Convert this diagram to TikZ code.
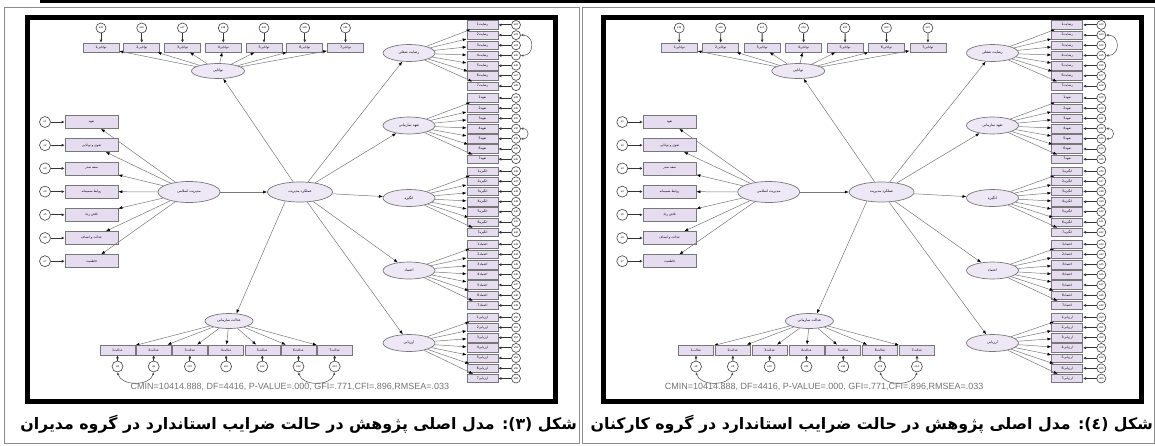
\documentclass[tikz,border=0pt]{standalone}
\usepackage{fontspec}
\setsansfont{Liberation Sans}
\newfontfamily\fa[Script=Arabic]{DejaVu Sans}
\TeXXeTstate=1
\usetikzlibrary{shapes.geometric,arrows.meta,positioning}

\definecolor{lavbox}{HTML}{E6DCF0}
\definecolor{lavell}{HTML}{EEE8F6}
\definecolor{edgegray}{HTML}{777777}

\newcommand{\fatxt}[1]{\beginR#1\endR}

\tikzset{
  lat/.style={ellipse, draw=edgegray, line width=0.7pt, fill=lavell, inner sep=0pt,
    font=\fa\fontsize{3.6}{4}\selectfont},
  obs/.style={rectangle, draw=edgegray, line width=0.6pt, fill=lavbox, inner sep=0pt,
    font=\fa\fontsize{3.2}{4}\selectfont},
  err/.style={circle, draw=black!75, line width=0.6pt, fill=white, inner sep=0pt,
    minimum size=10pt, font=\sffamily\fontsize{2.6}{3}\selectfont},
  load/.style={draw=edgegray, line width=0.5pt, -{Latex[length=4pt,width=3pt,color=black]}},
  errpath/.style={draw=black!80, line width=0.9pt, -{Latex[length=3pt,width=3pt]}},
  covpath/.style={draw=black!70, line width=0.5pt,
    {Latex[length=2.5pt,width=2.5pt]}-{Latex[length=2.5pt,width=2.5pt]}},
  fitline/.style={font=\sffamily\fontsize{9}{10}\selectfont, text=black!55, inner sep=0pt},
  caption/.style={font=\fa\bfseries\fontsize{15.8}{18}\selectfont, inner sep=0pt},
}

% one AMOS model (#1 = name prefix, #2 = x of the fit line)
\newcommand{\semmodel}[2]{%
  % thick frame
  \draw[line width=5pt] (27,17.5) rectangle (555.5,401);
  % latent factors
  \node[lat, minimum width=65pt, minimum height=20pt] (#1-c) at (300,192) {\fatxt{عملکرد مدیریت}};
  \node[lat, minimum width=62pt, minimum height=21pt] (#1-l) at (189,192) {\fatxt{مدیریت اسلامی}};
  \node[lat, minimum width=53pt, minimum height=15pt] (#1-top) at (218,71) {\fatxt{توانایی}};
  \node[lat, minimum width=48pt, minimum height=15pt] (#1-b) at (229,321) {\fatxt{عدالت سازمانی}};
  \draw[load] (#1-l) -- (#1-c);
  \draw[load] (#1-c) -- (#1-top);
  \draw[load] (#1-c.212) -- (#1-b.45);
  % top indicators
  \foreach \i in {1,...,7}{
    \pgfmathtruncatemacro\n{14+\i}
    \node[obs, minimum width=36pt, minimum height=9pt] (#1-t\i) at ({101+40.75*(\i-1)},47.5) {\fatxt{توانایی\i}};
    \node[err] (#1-te\i) at ({101+40.75*(\i-1)},28) {e\n};
    \draw[errpath] (#1-te\i) -- (#1-t\i);
    \draw[load] (#1-top) -- (#1-t\i);
  }
  % left indicators
  \foreach \i/\nm in {1/{تعهد},2/{تقوی و توانایی},3/{سعه صدر},4/{روابط صمیمانه},
                      5/{تلاش زیاد},6/{عدالت و انصاف},7/{قاطعیت}}{
    \node[obs, minimum width=53pt, minimum height=13pt] (#1-l\i) at (91.5,{122+23.2*(\i-1)}) {\fatxt{\nm}};
    \node[err, minimum size=11pt] (#1-le\i) at (45,{122+23.2*(\i-1)}) {e\i};
    \draw[errpath] (#1-le\i) -- (#1-l\i);
    \draw[load] (#1-l) -- (#1-l\i);
  }
  % bottom indicators
  \foreach \i in {1,...,7}{
    \pgfmathtruncatemacro\n{7+\i}
    \node[obs, minimum width=35pt, minimum height=10pt] (#1-b\i) at ({117.5+36.2*(\i-1)},350) {\fatxt{عدالت\i}};
    \node[err, minimum size=11pt] (#1-be\i) at ({117.5+36.2*(\i-1)},366.5) {e\n};
    \draw[errpath] (#1-be\i) -- (#1-b\i);
    \draw[load] (#1-b) -- (#1-b\i);
  }
  \draw[covpath] (#1-be1.south) .. controls +(4,14) and +(-4,14) .. (#1-be2.south);
  \draw[covpath] (#1-be6.south) .. controls +(4,14) and +(-4,14) .. (#1-be7.south);
  % right factors and their indicators
  \foreach \k/\nm/\sh in {1/{رضایت شغلی}/{رضایت},2/{تعهد سازمانی}/{تعهد},3/{انگیزه}/{انگیزه},
                          4/{اعتماد}/{اعتماد},5/{ارزیابی}/{ارزیابی}}{
    \node[lat, minimum width=52pt, minimum height=17pt] (#1-r\k) at (409,{53+72.5*(\k-1)}) {\fatxt{\nm}};
    \draw[load] (#1-c) -- (#1-r\k);
    \foreach \i in {1,...,7}{
      \pgfmathtruncatemacro\n{21+7*(\k-1)+\i}
      \node[obs, minimum width=31pt, minimum height=8.5pt] (#1-r\k-\i) at (482.5,{55.5+73.1*(\k-1)+10.2*(\i-4)}) {\fatxt{\sh\i}};
      \node[err, minimum size=9pt] (#1-r\k-e\i) at (516,{55.5+73.1*(\k-1)+10.2*(\i-4)}) {e\n};
      \draw[errpath] (#1-r\k-e\i) -- (#1-r\k-\i);
      \draw[load] (#1-r\k) -- (#1-r\k-\i);
    }
  }
  \draw[covpath] (#1-r1-e2.east) .. controls +(14,0) and +(14,0) .. (#1-r1-e4.east);
  \draw[covpath] (#1-r2-e4.east) .. controls +(9,0) and +(9,0) .. (#1-r2-e5.east);
  % fit indices
  \node[fitline] (#1-fit) at (#2,387) {CMIN=10414.888, DF=4416, P-VALUE=.000, GFI=.771,CFI=.896,RMSEA=.033};
}

\begin{document}
\begin{tikzpicture}[x=1pt,y=-1pt]
  \useasboundingbox (0,0) rectangle (1155,445);
  % top rule and thin outer frames
  \draw[line width=2.5pt] (40,1.3) -- (1155,1.3);
  \draw[black!45, line width=0.8pt] (4,7) rectangle (579.5,443);
  \draw[black!45, line width=0.8pt] (582,7) rectangle (1154,443);

  % left model (managers)
  \begin{scope}
    \semmodel{L}{290}
  \end{scope}
  % right model (staff)
  \begin{scope}[shift={(576.5,0)}, xscale=1.017]
    \semmodel{R}{243.4}
  \end{scope}

  % captions
  \node[caption, anchor=east] (capL) at (577,424)
    {\beginR شکل (۳): مدل اصلی پژوهش در حالت ضرایب استاندارد در گروه مدیران\endR};
  \node[caption, anchor=east] (capR) at (1153,424)
    {\beginR شکل (٤): مدل اصلی پژوهش در حالت ضرایب استاندارد در گروه کارکنان\endR};
\end{tikzpicture}
\end{document}
